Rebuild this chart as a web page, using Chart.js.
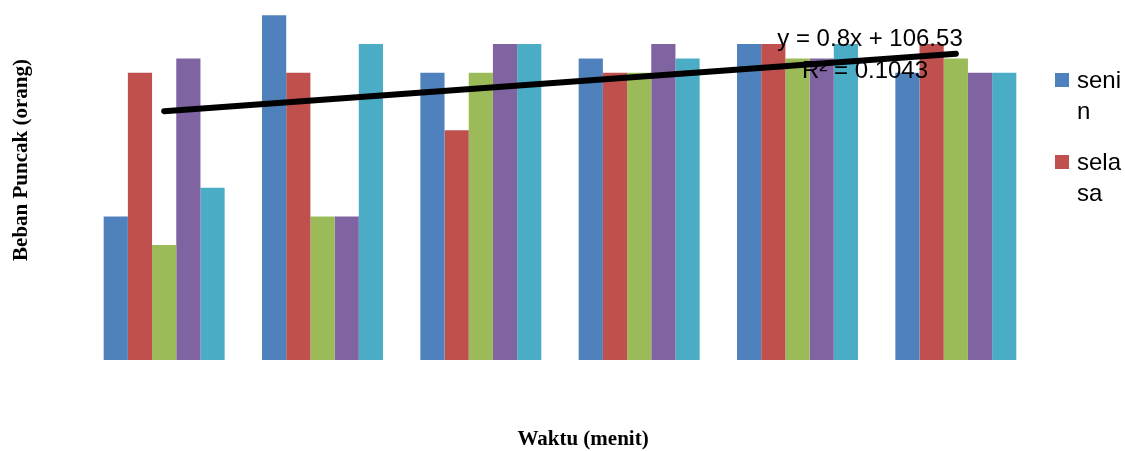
<!DOCTYPE html>
<html>
<head>
<meta charset="utf-8">
<script src="https://cdn.jsdelivr.net/npm/chart.js@4.4.0/dist/chart.umd.min.js"></script>
<style>
  html, body { margin: 0; padding: 0; background: #fff; }
  #wrap { width: 1125px; height: 451px; position: relative; }
</style>
</head>
<body>
<div id="wrap"><canvas id="peakChart"></canvas></div>
<script>
// data
const categories = ['1', '2', '3', '4', '5', '6'];
const senin  = [100, 114, 110, 111, 112, 110];
const selasa = [110, 110, 106, 110, 112, 112];
const rabu   = [98, 100, 110, 110, 111, 111];
const kamis  = [111, 100, 112, 112, 111, 110];
const jumat  = [102, 112, 112, 111, 112, 110];
// trendline ends from y = 0.8x + 106.53 (x = 1 and x = 6)
const trend = [107.33, null, null, null, null, 111.33];

const colors = ['#4F81BD', '#C0504D', '#9BBB59', '#8064A2', '#4BACC6'];

function bar(label, data, i) {
    return {
        type: 'bar',
        label: label,
        data: data,
        backgroundColor: colors[i],
        borderWidth: 0,
        categoryPercentage: 0.764,
        barPercentage: 1,
        order: 1
    };
}

// axis titles, trendline label and the (clipped) legend
const extras = {
    id: 'extras',
    afterDraw(chart) {
        const ctx = chart.ctx;
        ctx.save();
        ctx.fillStyle = '#000';

        ctx.font = 'bold 21px "Liberation Serif", "Times New Roman", serif';
        ctx.textAlign = 'center';
        ctx.textBaseline = 'middle';
        ctx.fillText('Waktu (menit)', 583, 440);
        ctx.save();
        ctx.translate(22, 160);
        ctx.rotate(-Math.PI / 2);
        ctx.fillText('Beban Puncak (orang)', 0, 0);
        ctx.restore();

        ctx.font = '24px "Liberation Sans", Arial, sans-serif';
        ctx.textBaseline = 'alphabetic';
        ctx.fillText('y = 0.8x + 106.53', 870, 46);
        ctx.fillText('R\u00B2 = 0.1043', 865, 78);

        // legend: only room for two entries, words wrap
        const legend = [['seni', 'n'], ['sela', 'sa']];
        ctx.textAlign = 'left';
        legend.forEach((lines, i) => {
            const top = 73 + i * 82;
            ctx.fillStyle = chart.data.datasets[i].backgroundColor;
            ctx.fillRect(1055, top, 14, 14);
            ctx.fillStyle = '#000';
            lines.forEach((t, j) => ctx.fillText(t, 1077, top + 15 + j * 31));
        });
        ctx.restore();
    }
};

new Chart(document.getElementById('peakChart').getContext('2d'), {
    data: {
        labels: categories,
        datasets: [
            bar('senin', senin, 0),
            bar('selasa', selasa, 1),
            bar('rabu', rabu, 2),
            bar('kamis', kamis, 3),
            bar('jumat', jumat, 4),
            {
                type: 'line',
                label: 'Linear (senin)',
                data: trend,
                spanGaps: true,
                borderColor: '#000',
                borderWidth: 6,
                borderCapStyle: 'round',
                pointRadius: 0,
                order: 0
            }
        ]
    },
    options: {
        responsive: true,
        maintainAspectRatio: false,
        animation: false,
        layout: { padding: { left: 85, right: 90, top: 1, bottom: 91 } },
        plugins: {
            legend: { display: false },
            tooltip: { enabled: false }
        },
        scales: {
            x: { display: false },
            y: { display: false, min: 90, max: 115 }
        }
    },
    plugins: [extras]
});
</script>
</body>
</html>
